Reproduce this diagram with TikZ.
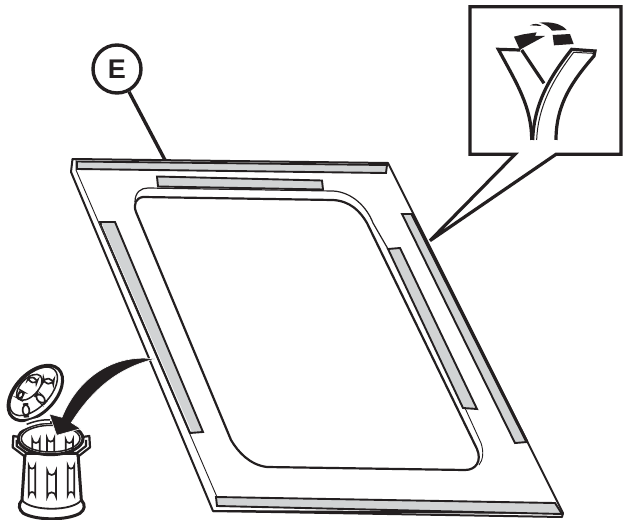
\documentclass[tikz,border=0pt]{standalone}
\usepackage{fontspec}
\setmainfont{Liberation Sans}
\definecolor{ink}{HTML}{231F20}
\definecolor{strip}{HTML}{D1D3D4}
\tikzset{
 x=1pt,y=-1pt,
 stripbox/.style={draw=ink,fill=strip,line width=1.9pt,line join=miter},
 thin1/.style={draw=ink,line width=0.9pt},
 med/.style={draw=ink,line width=2pt,line join=round},
 heavy/.style={draw=ink,line width=3.2pt,line join=miter},
 ystroke/.style={draw=ink,line width=3.2pt,line join=miter},
 slot/.style={draw=ink,line width=1.7pt},
}
\begin{document}
\begin{tikzpicture}
\useasboundingbox (0,0) rectangle (626,519);
% panel
\draw[med] (71,172) -- (72.5,159) -- (388,163) -- (563,513) -- (562,517) -- (213,511) -- cycle;
\draw[med] (213,511) -- (563,513);
\draw[thin1] (76,160) -- (76,170) -- (217,497);
% strips
\draw[stripbox] (77,161.5) -- (387,165) -- (386,173) -- (77,169) -- cycle;
\draw[stripbox] (157,176.5) -- (322,180.5) -- (323,189.5) -- (158,186.5) -- cycle;
\draw[stripbox] (100,222) -- (115,222) -- (203,432) -- (190,433) -- cycle;
\draw[draw=white,line width=.6pt] (102,224.5) -- (191,431);
\draw[stripbox] (402,214) -- (412,214) -- (527,442) -- (515,443) -- cycle;
\draw[draw=ink,line width=3pt] (412,214) -- (527,442);
\draw[stripbox] (388,249) -- (400,248) -- (477,409) -- (463,408) -- cycle;
\draw[stripbox] (216,497) -- (555,503) -- (562,514) -- (217,506) -- cycle;
% window
\draw[med,line width=2.2pt] (143,197) -- (333,200) .. controls (350,201) and (360,211) .. (367,223)
  -- (477,449) .. controls (482,461) and (476,470) .. (465,470)
  -- (267,467) .. controls (250,465) and (238,452) .. (231,440)
  -- (136,212) .. controls (133,204) and (136,198) .. (143,197) -- cycle;
\draw[thin1,line width=1.2pt] (135,202) .. controls (135,192) and (141,188) .. (148,188)
  -- (333,191) .. controls (352,192) and (367,207) .. (373,223) -- (388,249);
\draw[thin1] (465,408) -- (481,443) .. controls (484,452) and (483,460) .. (479,465);
% label E
\node[circle,draw=ink,line width=3.4pt,minimum size=48pt,inner sep=0pt,font=\bfseries\fontsize{27}{27}\selectfont,text=ink] (e) at (117,69) {E};
\coordinate (ee) at (165,160);
\draw[draw=ink,line width=3.4pt] (e) -- (ee);
% callout
\begin{scope}[shift={(420,0)},x=0.3333pt,y=-0.3333pt]
\draw[heavy,fill=white] (150,20) -- (603,20) -- (603,463) -- (408,463) -- (30,722) -- (285,463) -- (150,463) -- cycle;
\draw[ystroke] (335,420) .. controls (335,320) and (290,250) .. (235,148) -- (300,150);
\draw[ystroke] (305,150) -- (372,250);
\draw[ystroke] (338,420) .. controls (342,310) and (390,230) .. (455,148) -- (525,153) -- (522,168) .. controls (460,240) and (408,310) .. (408,420);
\draw[draw=ink,line width=1pt] (350,420) .. controls (354,320) and (398,240) .. (461,157) -- (520,160);
\fill[ink] (282,110) -- (300,150) -- (305,146) -- (375,108) -- (345,108) -- (350,97) -- (310,103) -- cycle;
\fill[ink] (330,76) .. controls (342,70) and (355,70) .. (365,78) -- cycle;
\fill[ink] (358,68) .. controls (395,64) and (425,72) .. (440,90) -- (396,92) .. controls (388,80) and (375,72) .. (358,68) -- cycle;
\fill[ink] (398,105) -- (450,102) -- (461,132) -- (402,136) -- cycle;
\end{scope}
% trash can
\begin{scope}[shift={(0,340)},x=0.3333pt,y=-0.3333pt]
% lid
\draw[draw=ink,line width=3pt,fill=white,rotate around={46:(106,159)}] (106,159) ellipse [x radius=100,y radius=60];
\draw[draw=ink,line width=1.5pt,rotate around={46:(101,154)}] (101,154) ellipse [x radius=90,y radius=48];
\draw[draw=ink,line width=1.5pt,rotate around={46:(88,142)}] (88,142) ellipse [x radius=48,y radius=26];
\draw[slot,rotate around={-8:(145,123)},rounded corners=5pt] (129,116) rectangle (161,131);
\draw[slot,rotate around={-42:(122,176)},rounded corners=6pt] (104,166) rectangle (140,186);
\draw[slot,rotate around={4:(78,211)},rounded corners=6pt] (68,192) rectangle (88,230);
\draw[slot,rotate around={-20:(98,120)},rounded corners=4pt] (84,113) rectangle (112,127);
\draw[slot,rotate around={60:(62,165)},rounded corners=4pt] (50,158) rectangle (74,172);
% can
\draw[draw=ink,line width=3pt,fill=white] (75,340) -- (66,480) .. controls (52,495) and (58,510) .. (70,520) .. controls (110,542) and (200,542) .. (240,520) .. controls (254,510) and (258,495) .. (244,480) -- (234,340) -- cycle;
\draw[draw=ink,line width=1.8pt] (66,480) .. controls (90,515) and (220,515) .. (244,480);
% handles
\draw[draw=ink,line width=2.2pt,fill=white,line join=round] (62,292) -- (40,288) -- (38,322) -- (75,350) -- (78,338) -- (50,318) -- (50,300);
\draw[draw=ink,line width=2.2pt,fill=white,line join=round] (240,292) -- (268,288) -- (270,322) -- (234,350) -- (232,338) -- (258,318) -- (258,300);
% rim
\draw[draw=ink,line width=3pt,fill=white] (152,296) ellipse [x radius=97,y radius=48];
\draw[draw=ink,line width=1.5pt] (152,296) ellipse [x radius=88,y radius=40];
% slots
\draw[slot] (97,336) -- (97,298) arc[start angle=180,end angle=0,radius=11] -- (119,336);
\draw[slot] (141,336) -- (141,294) arc[start angle=180,end angle=0,radius=11] -- (163,336);
\draw[slot] (197,336) -- (197,298) arc[start angle=180,end angle=0,radius=11] -- (219,336);
\draw[slot] (86,376) arc[start angle=180,end angle=0,radius=10] -- (106,466) arc[start angle=0,end angle=-180,radius=10] -- cycle;
\draw[slot] (142,392) arc[start angle=180,end angle=0,radius=13] -- (168,470) arc[start angle=0,end angle=-180,radius=13] -- cycle;
\draw[slot] (203,376) arc[start angle=180,end angle=0,radius=10] -- (223,466) arc[start angle=0,end angle=-180,radius=10] -- cycle;
% white gap behind arrow
\draw[draw=white,line width=6pt] (50,268) .. controls (90,245) and (125,238) .. (150,240);
\draw[draw=ink,line width=1.5pt] (80,253) .. controls (105,243) and (130,238) .. (150,240);
% arrow
\fill[ink,draw=white,line width=.6pt] (465,57) .. controls (345,40) and (235,110) .. (186,232) -- (148,222) -- (170,286) -- (242,266) -- (214,248) .. controls (270,160) and (345,85) .. (465,57) -- cycle;
\end{scope}
\end{tikzpicture}
\end{document}
